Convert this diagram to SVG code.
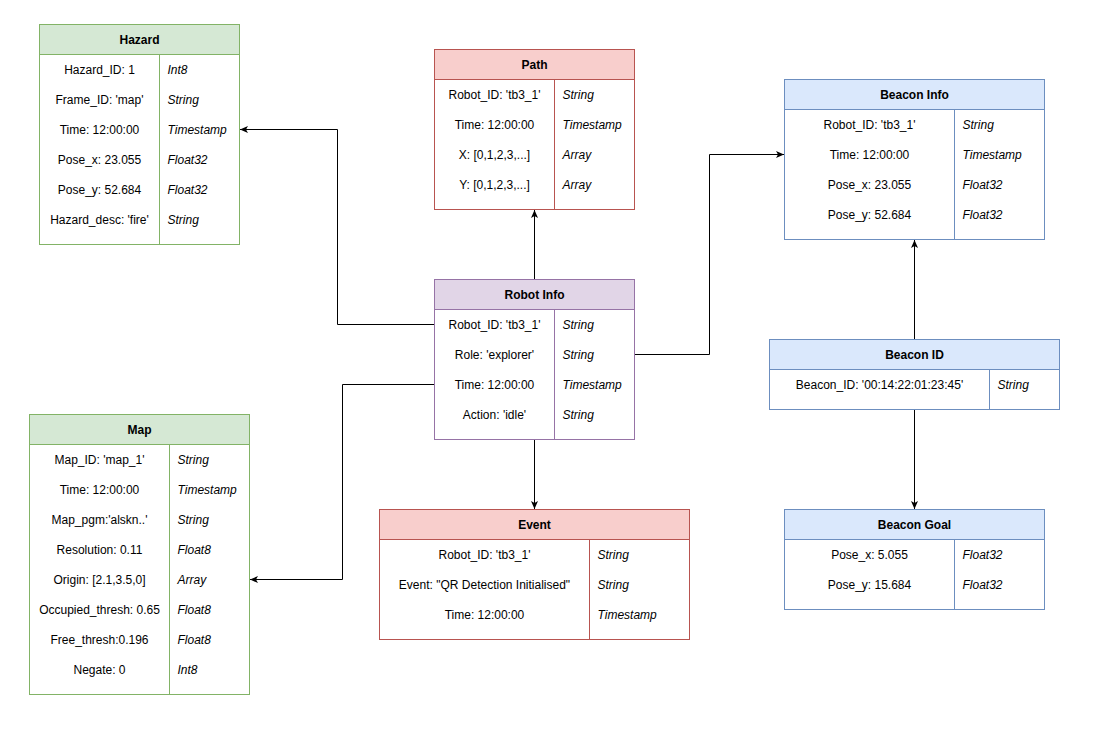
<svg xmlns="http://www.w3.org/2000/svg" width="1094" height="734" viewBox="0 0 1094 734">
  <style>
    text { font-family: "Liberation Sans", Arial, Helvetica, sans-serif; font-size: 12px; fill: #000; }
    .title { font-weight: bold; text-anchor: middle; }
    .field { text-anchor: middle; }
    .type { font-style: italic; text-anchor: start; }
    .body { fill: #ffffff; }
    .green .head { fill: #d5e8d4; }
    .green rect, .green line { stroke: #82b366; }
    .red .head { fill: #f8cecc; }
    .red rect, .red line { stroke: #b85450; }
    .blue .head { fill: #dae8fc; }
    .blue rect, .blue line { stroke: #6c8ebf; }
    .purple .head { fill: #e1d5e7; }
    .purple rect, .purple line { stroke: #9673a6; }
    rect, line { stroke-width: 1; }
    .conn path { fill: none; stroke: #000; stroke-width: 1; marker-end: url(#arrow); }
  </style>
  <defs>
    <marker id="arrow" markerUnits="userSpaceOnUse" markerWidth="10" markerHeight="10" refX="8" refY="3.5" orient="auto">
      <path d="M0,0 L8,3.5 L0,7 L2,3.5 Z" fill="#000"/>
    </marker>
  </defs>
  <rect x="0" y="0" width="1094" height="734" fill="#ffffff"/>

  <!-- connectors -->
  <g id="connectors" class="conn">
    <path d="M434.5,324.5 H337.5 V129.5 H240"/>
    <path d="M434.5,384.5 H342.5 V579.5 H250"/>
    <path d="M534.5,279.5 V210"/>
    <path d="M534.5,439.5 V509"/>
    <path d="M634.5,354.5 H709.5 V154.5 H784"/>
    <path d="M914.5,339.5 V240"/>
    <path d="M914.5,409.5 V509"/>
  </g>

  <!-- Hazard -->
  <g id="hazard" class="green">
    <rect class="body" x="39.5" y="24.5" width="200" height="220"/>
    <rect class="head" x="39.5" y="24.5" width="200" height="30"/>
    <line x1="159.5" y1="54.5" x2="159.5" y2="244.5"/>
    <text class="title" x="139.5" y="44">Hazard</text>
    <text class="field" x="99.5" y="74">Hazard_ID: 1</text>
    <text class="field" x="99.5" y="104">Frame_ID: 'map'</text>
    <text class="field" x="99.5" y="134">Time: 12:00:00</text>
    <text class="field" x="99.5" y="164">Pose_x: 23.055</text>
    <text class="field" x="99.5" y="194">Pose_y: 52.684</text>
    <text class="field" x="99.5" y="224">Hazard_desc: 'fire'</text>
    <text class="type" x="167.5" y="74">Int8</text>
    <text class="type" x="167.5" y="104">String</text>
    <text class="type" x="167.5" y="134">Timestamp</text>
    <text class="type" x="167.5" y="164">Float32</text>
    <text class="type" x="167.5" y="194">Float32</text>
    <text class="type" x="167.5" y="224">String</text>
  </g>

  <!-- Path -->
  <g id="path" class="red">
    <rect class="body" x="434.5" y="49.5" width="200" height="160"/>
    <rect class="head" x="434.5" y="49.5" width="200" height="30"/>
    <line x1="554.5" y1="79.5" x2="554.5" y2="209.5"/>
    <text class="title" x="534.5" y="69">Path</text>
    <text class="field" x="494.5" y="99">Robot_ID: 'tb3_1'</text>
    <text class="field" x="494.5" y="129">Time: 12:00:00</text>
    <text class="field" x="494.5" y="159">X: [0,1,2,3,...]</text>
    <text class="field" x="494.5" y="189">Y: [0,1,2,3,...]</text>
    <text class="type" x="562.5" y="99">String</text>
    <text class="type" x="562.5" y="129">Timestamp</text>
    <text class="type" x="562.5" y="159">Array</text>
    <text class="type" x="562.5" y="189">Array</text>
  </g>

  <!-- Beacon Info -->
  <g id="beacon-info" class="blue">
    <rect class="body" x="784.5" y="79.5" width="260" height="160"/>
    <rect class="head" x="784.5" y="79.5" width="260" height="30"/>
    <line x1="954.5" y1="109.5" x2="954.5" y2="239.5"/>
    <text class="title" x="914.5" y="99">Beacon Info</text>
    <text class="field" x="869.5" y="129">Robot_ID: 'tb3_1'</text>
    <text class="field" x="869.5" y="159">Time: 12:00:00</text>
    <text class="field" x="869.5" y="189">Pose_x: 23.055</text>
    <text class="field" x="869.5" y="219">Pose_y: 52.684</text>
    <text class="type" x="962.5" y="129">String</text>
    <text class="type" x="962.5" y="159">Timestamp</text>
    <text class="type" x="962.5" y="189">Float32</text>
    <text class="type" x="962.5" y="219">Float32</text>
  </g>

  <!-- Robot Info -->
  <g id="robot-info" class="purple">
    <rect class="body" x="434.5" y="279.5" width="200" height="160"/>
    <rect class="head" x="434.5" y="279.5" width="200" height="30"/>
    <line x1="554.5" y1="309.5" x2="554.5" y2="439.5"/>
    <text class="title" x="534.5" y="299">Robot Info</text>
    <text class="field" x="494.5" y="329">Robot_ID: 'tb3_1'</text>
    <text class="field" x="494.5" y="359">Role: 'explorer'</text>
    <text class="field" x="494.5" y="389">Time: 12:00:00</text>
    <text class="field" x="494.5" y="419">Action: 'idle'</text>
    <text class="type" x="562.5" y="329">String</text>
    <text class="type" x="562.5" y="359">String</text>
    <text class="type" x="562.5" y="389">Timestamp</text>
    <text class="type" x="562.5" y="419">String</text>
  </g>

  <!-- Beacon ID -->
  <g id="beacon-id" class="blue">
    <rect class="body" x="769.5" y="339.5" width="290" height="70"/>
    <rect class="head" x="769.5" y="339.5" width="290" height="30"/>
    <line x1="989.5" y1="369.5" x2="989.5" y2="409.5"/>
    <text class="title" x="914.5" y="359">Beacon ID</text>
    <text class="field" x="879.5" y="389">Beacon_ID: '00:14:22:01:23:45'</text>
    <text class="type" x="997.5" y="389">String</text>
  </g>

  <!-- Map -->
  <g id="map" class="green">
    <rect class="body" x="29.5" y="414.5" width="220" height="280"/>
    <rect class="head" x="29.5" y="414.5" width="220" height="30"/>
    <line x1="169.5" y1="444.5" x2="169.5" y2="694.5"/>
    <text class="title" x="139.5" y="434">Map</text>
    <text class="field" x="99.5" y="464">Map_ID: 'map_1'</text>
    <text class="field" x="99.5" y="494">Time: 12:00:00</text>
    <text class="field" x="99.5" y="524">Map_pgm:'alskn..'</text>
    <text class="field" x="99.5" y="554">Resolution: 0.11</text>
    <text class="field" x="99.5" y="584">Origin: [2.1,3.5,0]</text>
    <text class="field" x="99.5" y="614">Occupied_thresh: 0.65</text>
    <text class="field" x="99.5" y="644">Free_thresh:0.196</text>
    <text class="field" x="99.5" y="674">Negate: 0</text>
    <text class="type" x="177.5" y="464">String</text>
    <text class="type" x="177.5" y="494">Timestamp</text>
    <text class="type" x="177.5" y="524">String</text>
    <text class="type" x="177.5" y="554">Float8</text>
    <text class="type" x="177.5" y="584">Array</text>
    <text class="type" x="177.5" y="614">Float8</text>
    <text class="type" x="177.5" y="644">Float8</text>
    <text class="type" x="177.5" y="674">Int8</text>
  </g>

  <!-- Event -->
  <g id="event" class="red">
    <rect class="body" x="379.5" y="509.5" width="310" height="130"/>
    <rect class="head" x="379.5" y="509.5" width="310" height="30"/>
    <line x1="589.5" y1="539.5" x2="589.5" y2="639.5"/>
    <text class="title" x="534.5" y="529">Event</text>
    <text class="field" x="484.5" y="559">Robot_ID: 'tb3_1'</text>
    <text class="field" x="484.5" y="589">Event: "QR Detection Initialised"</text>
    <text class="field" x="484.5" y="619">Time: 12:00:00</text>
    <text class="type" x="597.5" y="559">String</text>
    <text class="type" x="597.5" y="589">String</text>
    <text class="type" x="597.5" y="619">Timestamp</text>
  </g>

  <!-- Beacon Goal -->
  <g id="beacon-goal" class="blue">
    <rect class="body" x="784.5" y="509.5" width="260" height="100"/>
    <rect class="head" x="784.5" y="509.5" width="260" height="30"/>
    <line x1="954.5" y1="539.5" x2="954.5" y2="609.5"/>
    <text class="title" x="914.5" y="529">Beacon Goal</text>
    <text class="field" x="869.5" y="559">Pose_x: 5.055</text>
    <text class="field" x="869.5" y="589">Pose_y: 15.684</text>
    <text class="type" x="962.5" y="559">Float32</text>
    <text class="type" x="962.5" y="589">Float32</text>
  </g>
</svg>
